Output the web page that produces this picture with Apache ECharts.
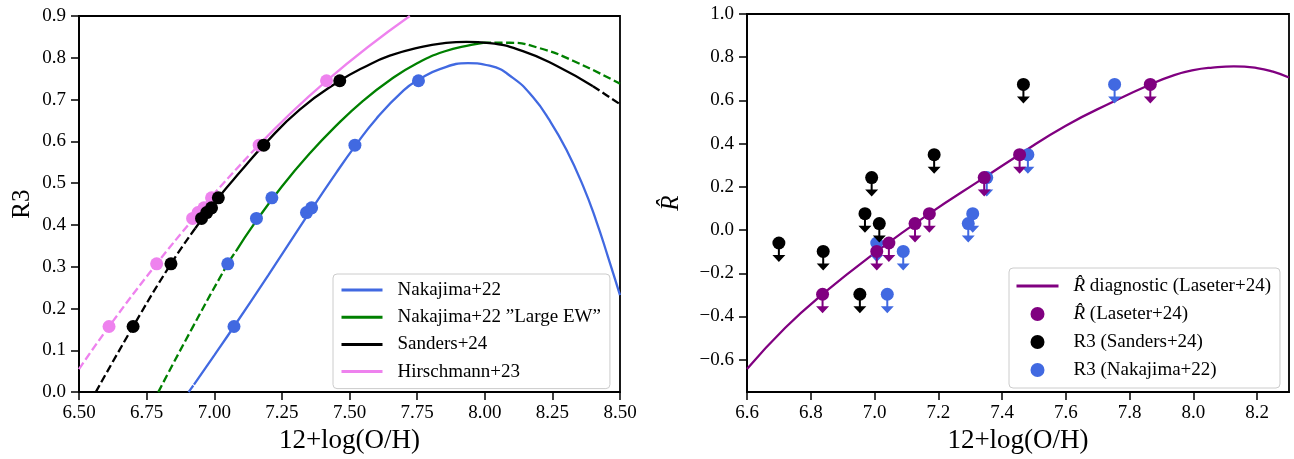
<!DOCTYPE html>
<html><head><meta charset="utf-8">
<script src="https://cdn.jsdelivr.net/npm/echarts@6/dist/echarts.min.js"></script>
<style>html,body{margin:0;padding:0;background:#fff}#c{width:1294px;height:459px}</style>
</head><body><div id="c"></div>
<script>
// ---------- tick labels ----------
const ohTicksLeft = [6.5, 6.75, 7.0, 7.25, 7.5, 7.75, 8.0, 8.25, 8.5];
const r3Ticks = [0, 0.1, 0.2, 0.3, 0.4, 0.5, 0.6, 0.7, 0.8, 0.9];
const ohTicksRight = [6.6, 6.8, 7.0, 7.2, 7.4, 7.6, 7.8, 8.0, 8.2];
const rhatTicks = [-0.6, -0.4, -0.2, 0, 0.2, 0.4, 0.6, 0.8, 1.0];

// ---------- left panel: calibration curves ----------
const nakajimaDashed = [[6.905, 0], [6.925, 0.018]];
const nakajimaSolid = [[6.925, 0.018], [7.0, 0.088], [7.073, 0.157], [7.2, 0.280], [7.35, 0.428], [7.45, 0.524], [7.52, 0.588], [7.6, 0.655], [7.7, 0.722], [7.757, 0.748], [7.834, 0.773], [7.938, 0.787], [8.018, 0.781], [8.104, 0.752], [8.178, 0.706], [8.24, 0.650], [8.302, 0.580], [8.363, 0.494], [8.412, 0.410], [8.455, 0.325], [8.5, 0.232]];
const largeEWDashedLow = [[6.793, 0], [6.92, 0.155], [7.05, 0.307], [7.08, 0.337]];
const largeEWSolid = [[7.08, 0.337], [7.15, 0.405], [7.25, 0.492], [7.35, 0.569], [7.45, 0.637], [7.55, 0.697], [7.65, 0.747], [7.75, 0.787], [7.85, 0.815], [7.95, 0.831], [7.994, 0.836]];
const largeEWDashedHigh = [[7.994, 0.836], [8.092, 0.836], [8.203, 0.823], [8.326, 0.793], [8.5, 0.738]];
const sandersDashedLow = [[6.562, 0], [6.70, 0.157], [6.84, 0.307], [6.93, 0.392]];
const sandersSolid = [[6.93, 0.392], [7.015, 0.465], [7.1, 0.530], [7.183, 0.591], [7.316, 0.676], [7.464, 0.745], [7.55, 0.776], [7.649, 0.805], [7.772, 0.827], [7.85, 0.835], [7.932, 0.838], [8.018, 0.835], [8.141, 0.816], [8.265, 0.781], [8.40, 0.732]];
const sandersDashedHigh = [[8.40, 0.732], [8.5, 0.689]];
const hirschDashed = [[6.5, 0.055], [6.611, 0.157], [6.787, 0.307], [6.92, 0.413], [6.99, 0.468], [7.16, 0.588]];
const hirschSolid = [[7.16, 0.588], [7.415, 0.745], [7.723, 0.9]];

// ---------- left panel: measured points ----------
const r3Values = [0.157, 0.307, 0.4155, 0.4296, 0.441, 0.465, 0.591, 0.745];
const ohNakajima = [7.073, 7.05, 7.156, 7.341, 7.36, 7.213, 7.52, 7.755];
const ohSanders = [6.70, 6.84, 6.953, 6.972, 6.990, 7.015, 7.183, 7.464];
const ohHirsch = [6.611, 6.787, 6.92, 6.94, 6.962, 6.99, 7.166, 7.415];

// ---------- right panel ----------
const rhatCurve = [[6.6, -0.643], [6.72, -0.452], [6.837, -0.297], [7.007, -0.099], [7.172, 0.076], [7.344, 0.2425], [7.455, 0.35], [7.6, 0.483], [7.75, 0.595], [7.865, 0.674], [7.94, 0.717], [8.0, 0.740], [8.06, 0.752], [8.127, 0.758], [8.2, 0.750], [8.25, 0.733], [8.3, 0.706]];
const rhatValues = [-0.297, -0.099, -0.060, 0.030, 0.076, 0.243, 0.349, 0.674];
const ohLaseter = [6.837, 7.007, 7.045, 7.127, 7.172, 7.344, 7.455, 7.865];
const ohSandersR = [6.954, 6.839, 6.70, 7.015, 6.970, 6.991, 7.187, 7.467];
const ohNakajimaR = [7.04, 7.09, 7.007, 7.294, 7.308, 7.352, 7.481, 7.753];

// ---------- style ----------
const FONT = 'Liberation Serif';
const C_BLUE = '#4169E1', C_GREEN = '#008000', C_BLACK = '#000000', C_VIOLET = '#EE82EE', C_PURPLE = '#800080';
const DASH = [8, 3.5];
const ARROW = 'path://M5.5,0 L7.5,0 L7.5,12 L13,12 L6.5,19 L0,12 L5.5,12 Z';

const zip = (xs, ys) => xs.map((x, i) => [x, ys[i]]);

function lineSeries(name, data, color, dashed, gi, z) {
  return {
    type: 'line', name, data, xAxisIndex: gi, yAxisIndex: gi,
    symbol: 'none', showSymbol: false, smooth: 0.5,
    lineStyle: { color, width: 2.3, type: dashed ? DASH : 'solid' },
    itemStyle: { color }, z: z || 2, silent: true, animation: false
  };
}
function dots(name, data, color, gi, z) {
  return {
    type: 'scatter', name, data, xAxisIndex: gi, yAxisIndex: gi,
    symbol: 'circle', symbolSize: 13, itemStyle: { color, opacity: 1 },
    z: z || 3, silent: true, animation: false
  };
}
function arrows(name, data, color, gi, z) {
  return {
    type: 'scatter', name, data, xAxisIndex: gi, yAxisIndex: gi,
    symbol: ARROW, symbolSize: [13, 19], symbolOffset: [0, 9.5],
    itemStyle: { color, opacity: 1 }, z: z || 3, silent: true, animation: false
  };
}
const fmtMinus = v => (v < 0 ? '\u2212' : '') + Math.abs(v).toFixed(1);

function xAxisCfg(gi, min, max, ticks, fmt) {
  return {
    type: 'value', gridIndex: gi, min, max,
    name: '12+log(O/H)', nameLocation: 'middle', nameGap: 33,
    nameTextStyle: { fontFamily: FONT, fontSize: 27, color: '#000' },
    axisLine: { show: true, onZero: false, lineStyle: { color: '#000', width: 1.8 } },
    axisTick: { show: true, inside: false, length: 8, lineStyle: { color: '#000', width: 1.5 }, customValues: ticks },
    axisLabel: { show: true, margin: 11, fontFamily: FONT, fontSize: 19, color: '#000', formatter: fmt, customValues: ticks },
    splitLine: { show: false }
  };
}
function yAxisCfg(gi, min, max, ticks, fmt, name, nameGap, nameStyle) {
  return {
    type: 'value', gridIndex: gi, min, max,
    name, nameLocation: 'middle', nameGap,
    nameTextStyle: Object.assign({ fontFamily: FONT, fontSize: 25, color: '#000' }, nameStyle || {}),
    axisLine: { show: true, onZero: false, lineStyle: { color: '#000', width: 1.8 } },
    axisTick: { show: true, inside: false, length: 8, lineStyle: { color: '#000', width: 1.5 }, customValues: ticks },
    axisLabel: { show: true, margin: 13, fontFamily: FONT, fontSize: 19, color: '#000', formatter: fmt, customValues: ticks },
    splitLine: { show: false }
  };
}

const legendText = {
  fontFamily: FONT, fontSize: 19, color: '#000', padding: [0, 0, 0, 10], lineHeight: 22,
  rich: { i: { fontFamily: FONT, fontSize: 19, fontStyle: 'italic', lineHeight: 22 },
          n: { fontFamily: FONT, fontSize: 19, lineHeight: 22 } }
};
const noSym = { opacity: 0 };
const legLine = { width: 3 };

const option = {
  backgroundColor: '#fff',
  animation: false,
  grid: [
    { left: 79, top: 16, width: 541, height: 384, show: true, borderColor: '#000', borderWidth: 1.8, backgroundColor: 'transparent' },
    { left: 747, top: 14, width: 542, height: 386, show: true, borderColor: '#000', borderWidth: 1.8, backgroundColor: 'transparent' }
  ],
  xAxis: [
    xAxisCfg(0, 6.5, 8.5, ohTicksLeft, v => v.toFixed(2)),
    xAxisCfg(1, 6.6, 8.3, ohTicksRight, v => v.toFixed(1))
  ],
  yAxis: [
    yAxisCfg(0, 0, 0.9, r3Ticks, v => v.toFixed(1), 'R3', 44),
    yAxisCfg(1, -0.75, 1.0, rhatTicks, fmtMinus, 'R\u0302', 63, { fontStyle: 'italic' })
  ],
  legend: [
    {
      orient: 'vertical', left: 333, top: 274, itemWidth: 41, itemHeight: 14, itemGap: 5.2,
      padding: [5, 9, 6, 7], backgroundColor: 'rgba(255,255,255,0.8)', borderColor: '#cccccc', borderWidth: 1, borderRadius: 4,
      selectedMode: false, textStyle: legendText,
      data: [
        { name: 'Nakajima+22', itemStyle: noSym, lineStyle: legLine },
        { name: 'Nakajima+22 \u201dLarge EW\u201d', itemStyle: noSym, lineStyle: legLine },
        { name: 'Sanders+24', itemStyle: noSym, lineStyle: legLine },
        { name: 'Hirschmann+23', itemStyle: noSym, lineStyle: legLine }
      ]
    },
    {
      orient: 'vertical', left: 1009, top: 268, itemWidth: 42, itemHeight: 14, itemGap: 6,
      padding: [7, 9, 7, 6], backgroundColor: 'rgba(255,255,255,0.8)', borderColor: '#cccccc', borderWidth: 1, borderRadius: 4,
      selectedMode: false, textStyle: legendText,
      formatter: n => n.startsWith('R\u0302') ? '{i|R\u0302}{n|' + n.slice(2) + '}' : n,
      data: [
        { name: 'R\u0302 diagnostic (Laseter+24)', itemStyle: noSym, lineStyle: legLine },
        'R\u0302 (Laseter+24)', 'R3 (Sanders+24)', 'R3 (Nakajima+22)'
      ]
    }
  ],
  series: [
    // left: curves
    lineSeries('Nakajima+22', nakajimaSolid, C_BLUE, false, 0, 2),
    lineSeries('_nak_d', nakajimaDashed, C_BLUE, true, 0, 2),
    lineSeries('Nakajima+22 \u201dLarge EW\u201d', largeEWSolid, C_GREEN, false, 0, 2),
    lineSeries('_ew_d1', largeEWDashedLow, C_GREEN, true, 0, 2),
    lineSeries('_ew_d2', largeEWDashedHigh, C_GREEN, true, 0, 2),
    lineSeries('Hirschmann+23', hirschSolid, C_VIOLET, false, 0, 2),
    lineSeries('_hir_d', hirschDashed, C_VIOLET, true, 0, 2),
    lineSeries('Sanders+24', sandersSolid, C_BLACK, false, 0, 2),
    lineSeries('_san_d1', sandersDashedLow, C_BLACK, true, 0, 2),
    lineSeries('_san_d2', sandersDashedHigh, C_BLACK, true, 0, 2),
    // left: points
    dots('_pts_nak', zip(ohNakajima, r3Values), C_BLUE, 0, 3),
    dots('_pts_hir', zip(ohHirsch, r3Values), C_VIOLET, 0, 3),
    dots('_pts_san', zip(ohSanders, r3Values), C_BLACK, 0, 4),
    // right
    lineSeries('R\u0302 diagnostic (Laseter+24)', rhatCurve, C_PURPLE, false, 1, 2),
    arrows('_arr_nak', zip(ohNakajimaR, rhatValues), C_BLUE, 1, 3),
    dots('R3 (Nakajima+22)', zip(ohNakajimaR, rhatValues), C_BLUE, 1, 3),
    arrows('_arr_san', zip(ohSandersR, rhatValues), C_BLACK, 1, 4),
    dots('R3 (Sanders+24)', zip(ohSandersR, rhatValues), C_BLACK, 1, 4),
    arrows('_arr_las', zip(ohLaseter, rhatValues), C_PURPLE, 1, 5),
    dots('R\u0302 (Laseter+24)', zip(ohLaseter, rhatValues), C_PURPLE, 1, 5)
  ]
};
const chart = echarts.init(document.getElementById('c'), null, { renderer: 'canvas' });
chart.setOption(option);
</script>
</body></html>
